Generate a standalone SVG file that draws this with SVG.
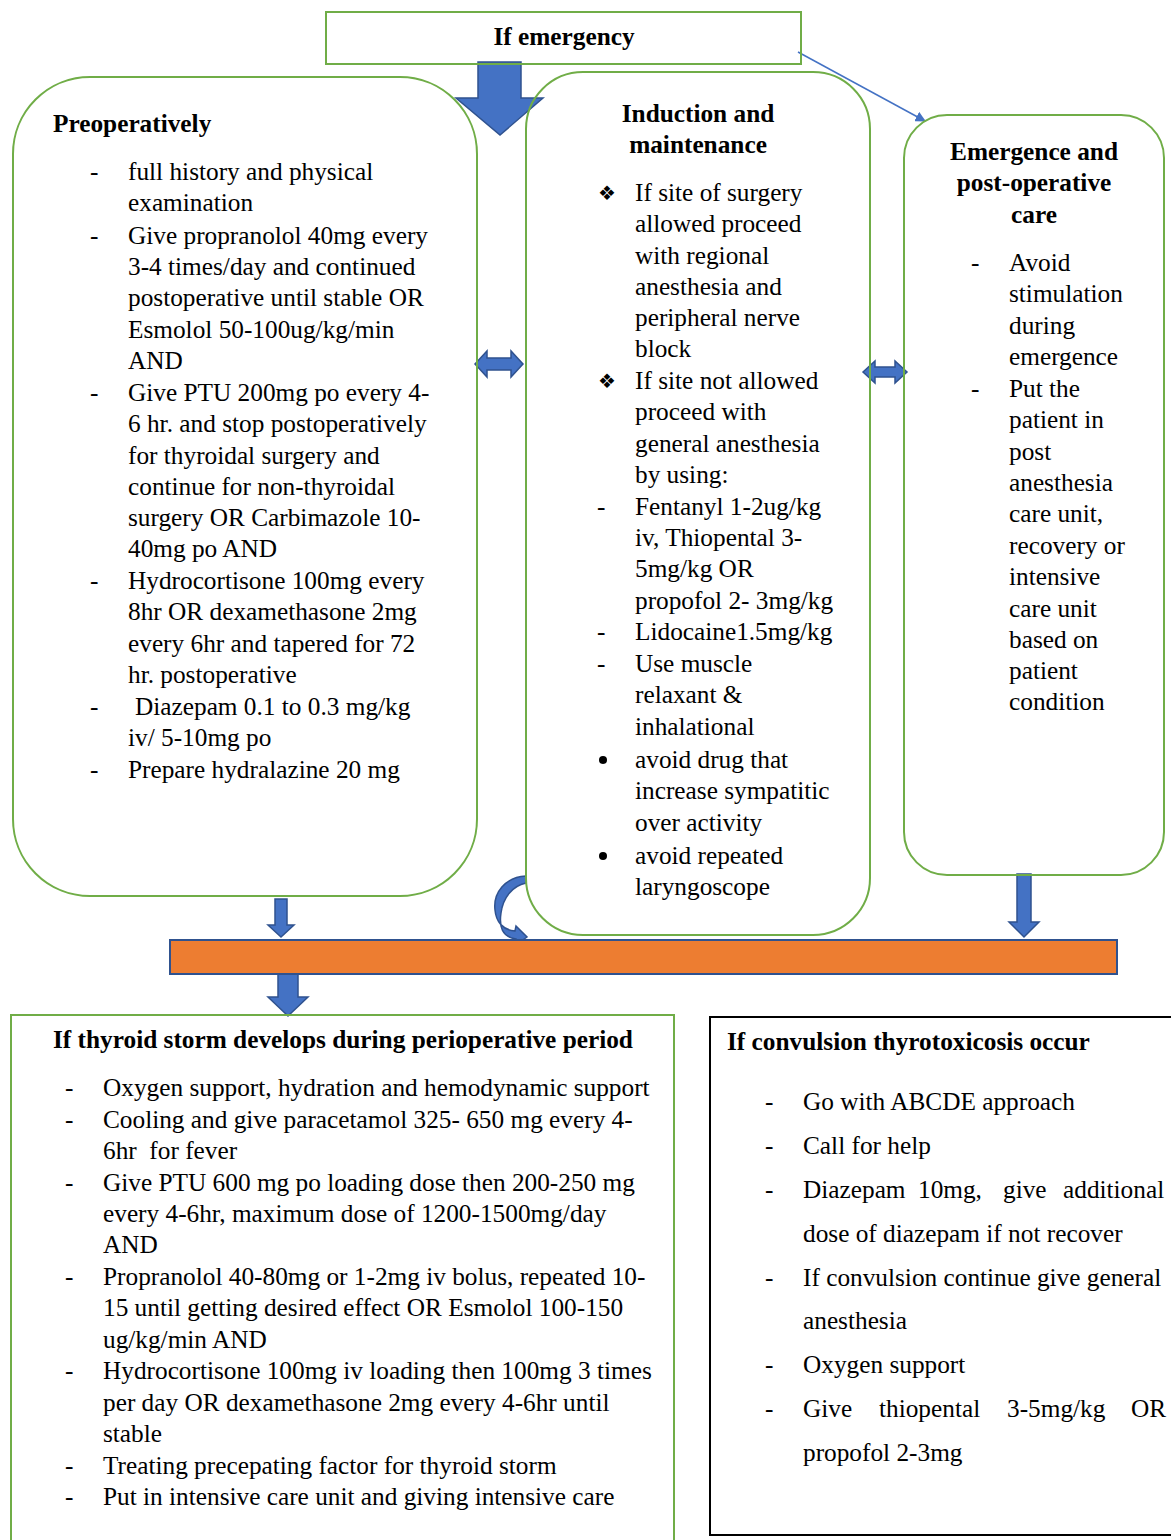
<svg xmlns="http://www.w3.org/2000/svg" width="1171" height="1540" viewBox="0 0 1171 1540">
<defs>
<style>
.box{fill:none;stroke:#70AD47;stroke-width:2}
.blk{fill:none;stroke:#000;stroke-width:2}
.t{font-family:"Liberation Serif","Times New Roman",serif;font-size:25.3px;fill:#000}
.b{font-weight:bold}
.m{text-anchor:middle}
.arr{fill:#4472C4;stroke:#2F528F;stroke-width:1.5;stroke-linejoin:miter}
.sym{font-family:"DejaVu Sans",sans-serif;font-size:20px;fill:#000}
</style>
<marker id="ah" viewBox="0 0 10 10" refX="9" refY="5" markerWidth="7" markerHeight="7" orient="auto">
<path d="M0,0 L10,5 L0,10 Z" fill="#4472C4"/>
</marker>
</defs>
<rect width="1171" height="1540" fill="#fff"/>

<g id="connectors">
<path class="arr" d="M478,62 L521,62 L521,98 L543,98 L500,135 L456,98 L478,98 Z"/>
<line x1="798" y1="52" x2="925" y2="121" stroke="#4472C4" stroke-width="1.5" marker-end="url(#ah)"/>
<path class="arr" d="M475,364 L487,351 L487,358 L511,358 L511,351 L523,364 L511,377 L511,370 L487,370 L487,377 Z"/>
<path class="arr" d="M863,372 L875,361 L875,367 L895,367 L895,361 L907,372 L895,383 L895,377 L875,377 L875,383 Z"/>
<path class="arr" d="M526,876 C505,877 493,893 495,910 C496,922 503,930 515,931 L516,926 L527,937 L517,944 L516,939 C502,937 499,927 501,913 C503,898 512,886 526,883 Z"/>
<path class="arr" d="M275,899 L287,899 L287,925 L294,925 L281,937 L268,925 L275,925 Z"/>
<path class="arr" d="M1017,874 L1031,874 L1031,922 L1039,922 L1024,937 L1009,922 L1017,922 Z"/>
<path class="arr" d="M278,973 L298,973 L298,997 L308,997 L288,1016 L268,997 L278,997 Z"/>
</g>

<g id="bar">
<rect x="170" y="940" width="947" height="34" fill="#ED7D31" stroke="#2F528F" stroke-width="2"/>
</g>

<g id="emergency">
<rect class="box" x="326" y="12" width="475" height="52"/>
<text class="t b m" x="564" y="45">If emergency</text>
</g>

<g id="preoperative">
<rect class="box" x="13" y="77" width="464" height="819" rx="77" ry="77"/>
<text class="t b" x="53" y="132">Preoperatively</text>
<g class="t">
<text x="90" y="180">-</text><text x="128" y="180">full history and physical</text>
<text x="128" y="211">examination</text>
<text x="90" y="244">-</text><text x="128" y="244">Give propranolol 40mg every</text>
<text x="128" y="275">3-4 times/day and continued</text>
<text x="128" y="306">postoperative until stable OR</text>
<text x="128" y="338">Esmolol 50-100ug/kg/min</text>
<text x="128" y="369">AND</text>
<text x="90" y="401">-</text><text x="128" y="401">Give PTU 200mg po every 4-</text>
<text x="128" y="432">6 hr. and stop postoperatively</text>
<text x="128" y="464">for thyroidal surgery and</text>
<text x="128" y="495">continue for non-thyroidal</text>
<text x="128" y="526">surgery OR Carbimazole 10-</text>
<text x="128" y="557">40mg po AND</text>
<text x="90" y="589">-</text><text x="128" y="589">Hydrocortisone 100mg every</text>
<text x="128" y="620">8hr OR dexamethasone 2mg</text>
<text x="128" y="652">every 6hr and tapered for 72</text>
<text x="128" y="683">hr. postoperative</text>
<text x="90" y="715">-</text><text x="135" y="715">Diazepam 0.1 to 0.3 mg/kg</text>
<text x="128" y="746">iv/ 5-10mg po</text>
<text x="90" y="778">-</text><text x="128" y="778">Prepare hydralazine 20 mg</text>
</g>
</g>

<g id="induction">
<rect class="box" x="526" y="72" width="344" height="863" rx="57" ry="57"/>
<text class="t b m" x="698" y="122">Induction and</text>
<text class="t b m" x="698" y="153">maintenance</text>
<text class="sym" x="598" y="200">❖</text>
<text class="sym" x="598" y="388">❖</text>
<circle cx="603" cy="760" r="4" fill="#000"/>
<circle cx="603" cy="856" r="4" fill="#000"/>
<g class="t">
<text x="635" y="201">If site of surgery</text>
<text x="635" y="232">allowed proceed</text>
<text x="635" y="264">with regional</text>
<text x="635" y="295">anesthesia and</text>
<text x="635" y="326">peripheral nerve</text>
<text x="635" y="357">block</text>
<text x="635" y="389">If site not allowed</text>
<text x="635" y="420">proceed with</text>
<text x="635" y="452">general anesthesia</text>
<text x="635" y="483">by using:</text>
<text x="597" y="515">-</text><text x="635" y="515">Fentanyl 1-2ug/kg</text>
<text x="635" y="546">iv, Thiopental 3-</text>
<text x="635" y="577">5mg/kg OR</text>
<text x="635" y="609">propofol 2- 3mg/kg</text>
<text x="597" y="640">-</text><text x="635" y="640">Lidocaine1.5mg/kg</text>
<text x="597" y="672">-</text><text x="635" y="672">Use muscle</text>
<text x="635" y="703">relaxant &amp;</text>
<text x="635" y="735">inhalational</text>
<text x="635" y="768">avoid drug that</text>
<text x="635" y="799">increase sympatitic</text>
<text x="635" y="831">over activity</text>
<text x="635" y="864">avoid repeated</text>
<text x="635" y="895">laryngoscope</text>
</g>
</g>

<g id="emergence">
<rect class="box" x="904" y="115" width="260" height="760" rx="43" ry="43"/>
<text class="t b m" x="1034" y="160">Emergence and</text>
<text class="t b m" x="1034" y="191">post-operative</text>
<text class="t b m" x="1034" y="223">care</text>
<g class="t">
<text x="971" y="271">-</text><text x="1009" y="271">Avoid</text>
<text x="1009" y="302">stimulation</text>
<text x="1009" y="334">during</text>
<text x="1009" y="365">emergence</text>
<text x="971" y="397">-</text><text x="1009" y="397">Put the</text>
<text x="1009" y="428">patient in</text>
<text x="1009" y="460">post</text>
<text x="1009" y="491">anesthesia</text>
<text x="1009" y="522">care unit,</text>
<text x="1009" y="554">recovery or</text>
<text x="1009" y="585">intensive</text>
<text x="1009" y="617">care unit</text>
<text x="1009" y="648">based on</text>
<text x="1009" y="679">patient</text>
<text x="1009" y="710">condition</text>
</g>
</g>

<g id="thyroid-storm">
<rect class="box" x="11" y="1015" width="663" height="540"/>
<text class="t b" x="53" y="1048">If thyroid storm develops during perioperative period</text>
<g class="t">
<text x="65" y="1096">-</text><text x="103" y="1096">Oxygen support, hydration and hemodynamic support</text>
<text x="65" y="1128">-</text><text x="103" y="1128">Cooling and give paracetamol 325- 650 mg every 4-</text>
<text x="103" y="1159" xml:space="preserve">6hr  for fever</text>
<text x="65" y="1191">-</text><text x="103" y="1191">Give PTU 600 mg po loading dose then 200-250 mg</text>
<text x="103" y="1222">every 4-6hr, maximum dose of 1200-1500mg/day</text>
<text x="103" y="1253">AND</text>
<text x="65" y="1285">-</text><text x="103" y="1285">Propranolol 40-80mg or 1-2mg iv bolus, repeated 10-</text>
<text x="103" y="1316">15 until getting desired effect OR Esmolol 100-150</text>
<text x="103" y="1348">ug/kg/min AND</text>
<text x="65" y="1379">-</text><text x="103" y="1379">Hydrocortisone 100mg iv loading then 100mg 3 times</text>
<text x="103" y="1411">per day OR dexamethasone 2mg every 4-6hr until</text>
<text x="103" y="1442">stable</text>
<text x="65" y="1474">-</text><text x="103" y="1474">Treating precepating factor for thyroid storm</text>
<text x="65" y="1505">-</text><text x="103" y="1505">Put in intensive care unit and giving intensive care</text>
</g>
</g>

<g id="convulsion">
<rect class="blk" x="710" y="1017" width="480" height="518"/>
<text class="t b" x="727" y="1050">If convulsion thyrotoxicosis occur</text>
<g class="t">
<text x="765" y="1110">-</text><text x="803" y="1110">Go with ABCDE approach</text>
<text x="765" y="1154">-</text><text x="803" y="1154">Call for help</text>
<text x="765" y="1198">-</text><text y="1198"><tspan x="803">Diazepam</tspan><tspan x="918">10mg,</tspan><tspan x="1003">give</tspan><tspan x="1063">additional</tspan></text>
<text x="803" y="1242">dose of diazepam if not recover</text>
<text x="765" y="1286">-</text><text x="803" y="1286">If convulsion continue give general</text>
<text x="803" y="1329">anesthesia</text>
<text x="765" y="1373">-</text><text x="803" y="1373">Oxygen support</text>
<text x="765" y="1417">-</text><text y="1417"><tspan x="803">Give</tspan><tspan x="879">thiopental</tspan><tspan x="1007">3-5mg/kg</tspan><tspan x="1131">OR</tspan></text>
<text x="803" y="1461">propofol 2-3mg</text>
</g>
</g>
</svg>
